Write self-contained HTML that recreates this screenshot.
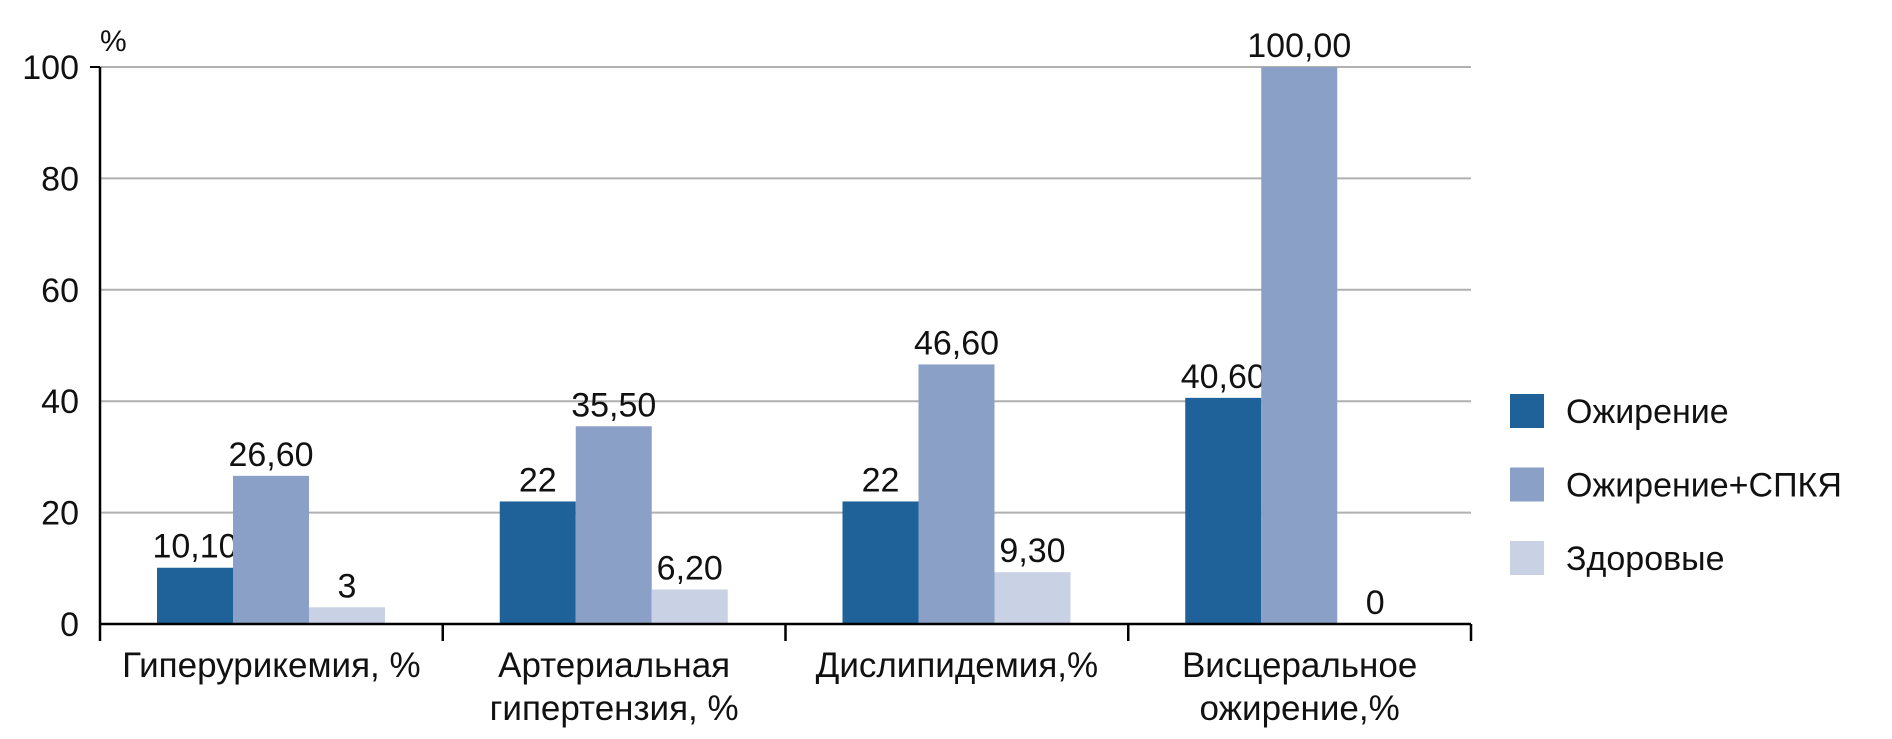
<!DOCTYPE html>
<html><head><meta charset="utf-8"><style>
html,body{margin:0;padding:0;background:#fff}
svg text{font-family:"Liberation Sans",sans-serif;fill:#111}
</style></head><body>
<svg width="1892" height="734" viewBox="0 0 1892 734">
<g id="grid"></g>
<g id="bars"></g>
<g id="axes"></g>
<g id="legend"></g>
</svg>
<script>
const categories = [["Гиперурикемия, %"],["Артериальная","гипертензия, %"],["Дислипидемия,%"],["Висцеральное","ожирение,%"]];
const seriesNames = ["Ожирение","Ожирение+СПКЯ","Здоровые"];
const obesity = [10.1, 22, 22, 40.6];
const obesityPcos = [26.6, 35.5, 46.6, 100];
const healthy = [3, 6.2, 9.3, 0];
const valueLabels = [["10,10","22","22","40,60"],["26,60","35,50","46,60","100,00"],["3","6,20","9,30","0"]];
const yTicks = [0,20,40,60,80,100];
const colors = ["#1f6199","#8ba0c6","#c9d1e4"];
const NS="http://www.w3.org/2000/svg";
const x0=100,x1=1471,y0=624,yTop=67,gw=(x1-x0)/4,bw=76,off=57;
const y=v=>y0-(y0-yTop)*v/100;
function mk(t,a,p){const e=document.createElementNS(NS,t);for(const k in a)e.setAttribute(k,a[k]);p.appendChild(e);return e;}
const grid=document.getElementById('grid'),bars=document.getElementById('bars'),axes=document.getElementById('axes'),leg=document.getElementById('legend');
yTicks.forEach(t=>{
  if(t>0){const l=mk('line',{x1:x0,x2:x1,y1:y(t),y2:y(t),stroke:'#b0b0b0','stroke-width':2},grid);
  
  }
  const tx=mk('text',{x:79,y:y(t)+12,'text-anchor':'end','font-size':34},axes);tx.textContent=t;
  
  
});
const pct=mk('text',{x:100,y:51,'font-size':30},axes);pct.textContent='%';


const series=[obesity,obesityPcos,healthy];
series.forEach((s,si)=>{s.forEach((v,ci)=>{
  const bx=x0+ci*gw+off+si*bw;
  const r=mk('rect',{x:bx,y:y(v),width:bw,height:y0-y(v),fill:colors[si]},bars);
  
  
  const t=mk('text',{x:bx+bw/2,y:y(v)-10,'text-anchor':'middle','font-size':34},bars);t.textContent=valueLabels[si][ci];
  
  
});});
mk('line',{x1:x0,x2:x0,y1:yTop,y2:y0,stroke:'#000','stroke-width':2.5},axes);
mk('line',{x1:x0,x2:x1,y1:y0,y2:y0,stroke:'#000','stroke-width':2.5},axes);
for(let i=0;i<=4;i++)mk('line',{x1:x0+i*gw,x2:x0+i*gw,y1:y0,y2:y0+17,stroke:'#000','stroke-width':2.5},axes);
mk('line',{x1:x0-10,x2:x0,y1:yTop,y2:yTop,stroke:'#000','stroke-width':2},axes);
categories.forEach((c,ci)=>{c.forEach((line,li)=>{
  const t=mk('text',{x:x0+ci*gw+gw/2,y:677+li*43,'text-anchor':'middle','font-size':35},axes);t.textContent=line;
  
  
});});
seriesNames.forEach((n,i)=>{
  const yy=394+i*73.5;
  const r=mk('rect',{x:1510,y:yy,width:34,height:34,fill:colors[i]},leg);
  
  
  const t=mk('text',{x:1566,y:yy+29,'font-size':34},leg);t.textContent=n;
  
  
});
</script>
</body></html>
